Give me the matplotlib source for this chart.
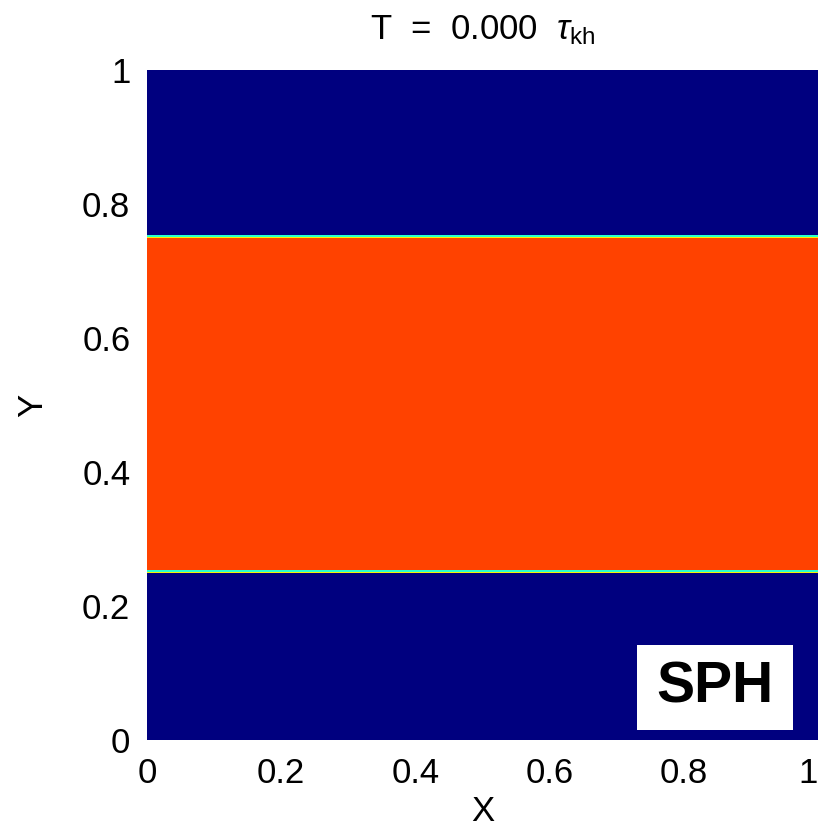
import numpy as np
import matplotlib
matplotlib.use('Agg')
from matplotlib import pyplot as plt
import matplotlib.patches as mpatches

# density bands of the KH initial condition
band_edges = [0.0, 0.25, 0.75, 1.0]
band_density = [1.0, 2.0, 1.0]
# smoothed values in the thin layer at each interface (low side, high side)
interface_density = [1.48, 1.78]
ticks = [0, 0.2, 0.4, 0.6, 0.8, 1]
tick_labels = ['0', '0.2', '0.4', '0.6', '0.8', '1']
title = r'T  =  0.000  $\tau_{\rm kh}$'
label = 'SPH'

plt.rcParams['font.family'] = ['Liberation Sans', 'DejaVu Sans']
plt.rcParams['mathtext.fontset'] = 'custom'
plt.rcParams['mathtext.rm'] = 'Liberation Sans'
plt.rcParams['mathtext.it'] = 'Liberation Sans:italic'

ny, nx = 670, 20
yc = (np.arange(ny) + 0.5) / ny
rho = np.zeros(ny)
for lo, hi, d in zip(band_edges[:-1], band_edges[1:], band_density):
    rho[(yc >= lo) & (yc < hi)] = d
# thin transition layer at the interfaces
for e in band_edges[1:-1]:
    i = int(round(e * ny))
    lo_i, hi_i = (i - 1, i) if rho[i - 1] < rho[i] else (i, i - 1)
    rho[lo_i - (1 if lo_i < hi_i else -1)] = interface_density[0]
    rho[lo_i] = interface_density[0]
    rho[hi_i] = interface_density[1]
field = np.tile(rho[:, None], (1, nx))

fig = plt.figure(figsize=(8.25, 8.3), dpi=100)
ax = fig.add_axes([147/825, 90/830, 671/825, 670/830])
ax.imshow(field, origin='lower', extent=[0, 1, 0, 1], cmap='jet',
          vmin=1.0, vmax=2.195, aspect='auto', interpolation='nearest')
ax.set_xlim(0, 1)
ax.set_ylim(0, 1)
for s in ax.spines.values():
    s.set_visible(False)
ax.set_xticks(ticks)
ax.set_xticklabels(tick_labels)
ax.set_yticks(ticks)
ax.set_yticklabels(tick_labels)
ax.tick_params(length=0, labelsize=25, pad=12)
ax.get_xticklabels()[-1].set_ha('right')
ax.set_xlabel('X', fontsize=25, labelpad=4)
ax.set_ylabel('Y', fontsize=25, labelpad=24)
ax.set_title(title, fontsize=25, pad=22)

box = mpatches.Rectangle((0.730, 0.015), 0.233, 0.127, transform=ax.transAxes,
                         facecolor='white', edgecolor='none')
ax.add_patch(box)
ax.text(0.846, 0.079, label, transform=ax.transAxes, fontsize=41,
        fontweight='bold', ha='center', va='center')

plt.savefig('out.png', dpi=100)
plt.close()
